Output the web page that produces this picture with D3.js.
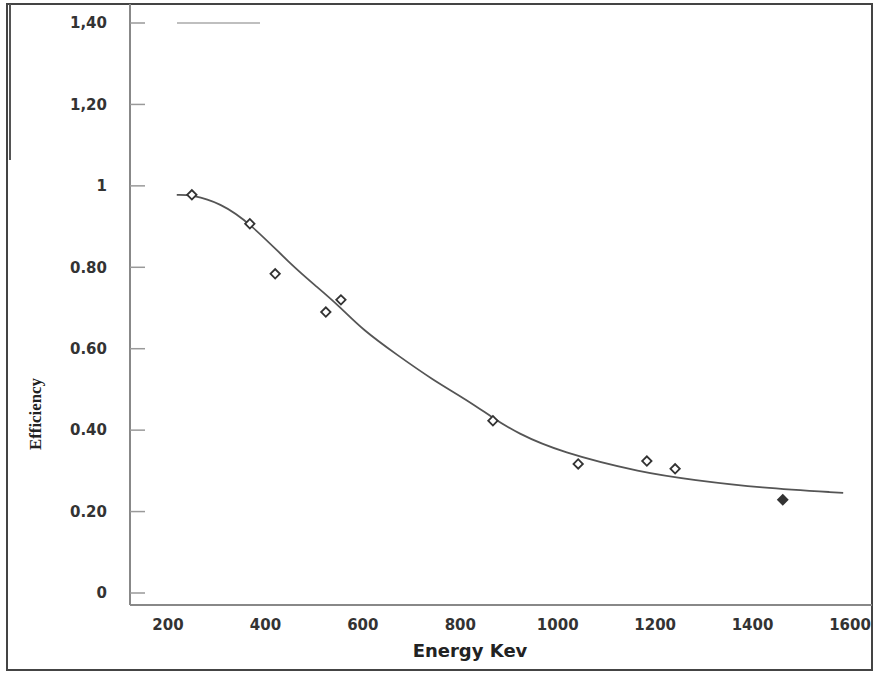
<!DOCTYPE html>
<html>
<head>
<meta charset="utf-8">
<script src="https://cdn.jsdelivr.net/npm/d3@7"></script>
<style>
  body { margin: 0; background: #fff; }
  svg { display: block; }
</style>
</head>
<body>
<div id="chart"></div>
<script>
// measured points (energy keV, efficiency)
const energies = [249, 368, 420, 524, 555, 867, 1042, 1183, 1241, 1462];
const efficiencies = [0.978, 0.907, 0.784, 0.690, 0.720, 0.423, 0.317, 0.324, 0.305, 0.229];

// fitted curve
const curveEnergy = [218, 249, 307, 368, 457, 506, 553, 600, 670, 744, 814, 867, 916, 1005, 1175, 1278, 1415, 1586];
const curveEff = [0.978, 0.978, 0.958, 0.909, 0.801, 0.752, 0.703, 0.646, 0.585, 0.523, 0.474, 0.430, 0.393, 0.346, 0.295, 0.278, 0.258, 0.246];

// axis ticks
const xTicks = [200, 400, 600, 800, 1000, 1200, 1400, 1600];
const yTicks = [0, 0.2, 0.4, 0.6, 0.8, 1, 1.2, 1.4];
const yTickLabels = ["0", "0.20", "0.40", "0.60", "0.80", "1", "1,20", "1,40"];

(function () {
  const W = 874, H = 673;
  const svg = d3.select("#chart").append("svg")
    .attr("width", W).attr("height", H);

  const x = d3.scaleLinear().domain([200, 1600]).range([168, 850]);
  const y = d3.scaleLinear().domain([0, 1.4]).range([593, 23]);

  const axisColor = "#888";

  // outer frame
  svg.append("rect")
    .attr("x", 7).attr("y", 4)
    .attr("width", 865).attr("height", 666)
    .attr("fill", "none")
    .attr("stroke", "#444")
    .attr("stroke-width", 2);
  svg.append("line")
    .attr("x1", 10).attr("x2", 10).attr("y1", 4).attr("y2", 160)
    .attr("stroke", "#555").attr("stroke-width", 2);

  // axis lines
  svg.append("line")
    .attr("x1", 130).attr("x2", 130).attr("y1", 4).attr("y2", 605)
    .attr("stroke", axisColor).attr("stroke-width", 2);
  svg.append("line")
    .attr("x1", 130).attr("x2", 872).attr("y1", 605).attr("y2", 605)
    .attr("stroke", axisColor).attr("stroke-width", 2);

  // y ticks point inwards
  const yAx = svg.append("g");
  yAx.selectAll("line.tick")
    .data(yTicks)
    .enter().append("line")
    .attr("class", "tick")
    .attr("x1", 130).attr("x2", 145)
    .attr("y1", d => y(d)).attr("y2", d => y(d))
    .attr("stroke", "#999").attr("stroke-width", 1.5);
  yAx.selectAll("text")
    .data(yTicks)
    .enter().append("text")
    .attr("x", 107)
    .attr("y", d => y(d))
    .attr("dy", "0.35em")
    .attr("text-anchor", "end")
    .attr("font-family", "DejaVu Sans, sans-serif")
    .attr("font-weight", "bold")
    .attr("font-size", "15px")
    .attr("fill", "#333")
    .text((d, i) => yTickLabels[i]);

  // x tick labels (no tick marks in the original)
  svg.append("g").selectAll("text")
    .data(xTicks)
    .enter().append("text")
    .attr("x", d => x(d))
    .attr("y", 630)
    .attr("text-anchor", "middle")
    .attr("font-family", "DejaVu Sans, sans-serif")
    .attr("font-weight", "bold")
    .attr("font-size", "15px")
    .attr("fill", "#333")
    .text(d => d);

  // axis titles
  svg.append("text")
    .attr("x", 470).attr("y", 657)
    .attr("text-anchor", "middle")
    .attr("font-family", "DejaVu Sans, sans-serif")
    .attr("font-weight", "bold")
    .attr("font-size", "18px")
    .attr("fill", "#222")
    .text("Energy Kev");

  svg.append("text")
    .attr("transform", "translate(41,414) rotate(-90)")
    .attr("text-anchor", "middle")
    .attr("font-family", "Liberation Serif, serif")
    .attr("font-weight", "bold")
    .attr("font-size", "17px")
    .attr("textLength", 72)
    .attr("lengthAdjust", "spacingAndGlyphs")
    .attr("fill", "#222")
    .text("Efficiency");

  // faint legend stub near the top
  svg.append("line")
    .attr("x1", 177).attr("x2", 260).attr("y1", 23).attr("y2", 23)
    .attr("stroke", "#aaa").attr("stroke-width", 1.5);

  // fitted curve
  const curveData = curveEnergy.map((e, i) => ({ e: e, v: curveEff[i] }));
  const line = d3.line()
    .x(d => x(d.e))
    .y(d => y(d.v))
    .curve(d3.curveBasis);
  svg.append("path")
    .datum(curveData)
    .attr("fill", "none")
    .attr("stroke", "#555")
    .attr("stroke-width", 1.8)
    .attr("d", line);

  // diamond markers
  const pts = energies.map((e, i) => ({ e: e, v: efficiencies[i] }));
  const sym = d3.symbol().type(d3.symbolSquare).size(44);
  svg.append("g").selectAll("path")
    .data(pts)
    .enter().append("path")
    .attr("d", sym)
    .attr("transform", d => `translate(${x(d.e)},${y(d.v)}) rotate(45)`)
    .attr("fill", (d, i) => i === pts.length - 1 ? "#333" : "#fff")
    .attr("stroke", "#333")
    .attr("stroke-width", 1.8);
})();
</script>
</body>
</html>
